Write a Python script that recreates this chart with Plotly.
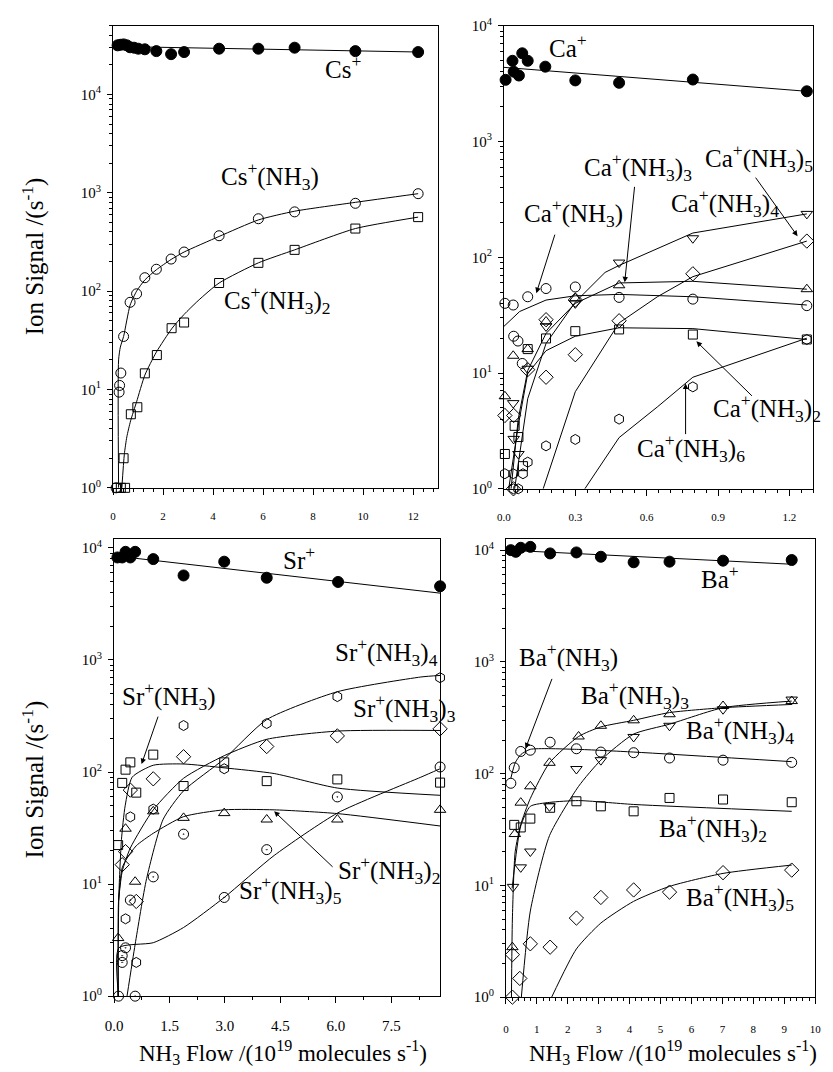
import plotly.graph_objects as go

W, H = 833, 1072
SERIF = "Liberation Serif, Times New Roman, serif"

# ---------------- Cs panel ----------------
cs_x = [0.18, 0.29, 0.42, 0.55, 0.68, 0.84, 1.01, 1.27, 1.73, 2.32, 2.84, 4.24, 5.81, 7.26, 9.69, 12.2]
cs_y = [31600, 32000, 32300, 31600, 30200, 29900, 29200, 28800, 27600, 25700, 27000, 29200, 29200, 29900, 27600, 27000]
cs_fit_x = [0.0, 12.3]
cs_fit_y = [30800, 27000]

cs1_x = [0.12, 0.24, 0.26, 0.31, 0.42, 0.68, 0.94, 1.27, 1.73, 2.32, 2.84, 4.24, 5.81, 7.26, 9.69, 12.2]
cs1_y = [1, 9.4, 11, 14.7, 34.6, 77, 94, 137, 167, 212, 250, 366, 545, 640, 782, 980]
cs1_fit_x = [0.22, 0.22, 0.29, 0.42, 0.68, 0.94, 1.27, 1.73, 2.32, 2.84, 4.24, 5.81, 7.26, 9.69, 12.2]
cs1_fit_y = [1, 20, 27, 34.6, 72, 100, 130, 165, 210, 250, 360, 530, 650, 800, 980]

cs2_x = [0.16, 0.31, 0.48, 0.42, 0.71, 0.97, 1.27, 1.75, 2.34, 2.84, 4.24, 5.81, 7.26, 9.69, 12.2]
cs2_y = [1, 1, 1, 2.0, 5.6, 6.6, 14.6, 22.4, 42, 48, 121, 194, 263, 433, 566]
cs2_fit_x = [0.35, 0.45, 0.55, 0.7, 0.94, 1.27, 1.73, 2.36, 2.84, 3.4, 4.24, 5.81, 7.26, 9.69, 12.2]
cs2_fit_y = [1, 2.2, 3.3, 4.8, 7.5, 14, 24, 42, 58, 80, 121, 194, 263, 433, 566]

# ---------------- Ca panel ----------------
ca_x = [0.007, 0.036, 0.041, 0.063, 0.077, 0.10, 0.174, 0.30, 0.484, 0.794, 1.273]
ca_y = [3410, 4980, 4010, 3715, 5780, 4980, 4430, 3370, 3215, 3430, 2715]
ca_fit_x = [0.0, 1.273]
ca_fit_y = [4370, 2715]

ca1_x = [0.004, 0.039, 0.041, 0.059, 0.077, 0.10, 0.177, 0.30, 0.484, 0.794, 1.273]
ca1_y = [40, 38.7, 20.8, 18.9, 12.1, 45.6, 53.7, 55.4, 45, 43.5, 38.2]
ca1_fit_x = [0.0, 0.066, 0.177, 0.30, 0.484, 0.794, 1.273]
ca1_fit_y = [25.3, 34, 42.7, 46.5, 47.8, 45.6, 38.7]

ca2_x = [0.004, 0.045, 0.061, 0.08, 0.10, 0.177, 0.30, 0.484, 0.794, 1.273]
ca2_y = [2.0, 3.5, 2.8, 1.57, 16.1, 19.9, 23, 23.8, 21.5, 19.5]
ca2_fit_x = [0.02, 0.06, 0.1, 0.177, 0.30, 0.484, 0.794, 1.273]
ca2_fit_y = [1, 3.5, 9.9, 15.6, 20.8, 24.6, 24.2, 19.5]

ca3_x = [0.004, 0.039, 0.10, 0.177, 0.30, 0.484, 1.273]
ca3_y = [6.3, 14.1, 16.1, 27.9, 44.2, 57.3, 53]
ca3_fit_x = [0.03, 0.06, 0.1, 0.177, 0.30, 0.484, 0.794, 1.273]
ca3_fit_y = [1, 4, 10.5, 22, 40, 60, 62, 53]

ca4_x = [0.039, 0.041, 0.061, 0.10, 0.177, 0.30, 0.484, 0.794, 1.273]
ca4_y = [5.5, 2.7, 2.0, 10.9, 25.3, 40, 90, 146, 237]
ca4_fit_x = [0.045, 0.1, 0.177, 0.30, 0.425, 0.484, 0.794, 1.273]
ca4_fit_y = [1, 6, 18, 41, 74, 85, 162, 237]

ca5_x = [0.004, 0.041, 0.04, 0.10, 0.177, 0.177, 0.30, 0.30, 0.484, 0.794, 1.273]
ca5_y = [4.3, 4.3, 1.0, 10.7, 9.2, 28.9, 14.4, 42.7, 28.3, 72, 138]
ca5_fit_x = [0.165, 0.30, 0.484, 0.645, 0.794, 1.273]
ca5_fit_y = [1, 6.9, 27.1, 45.6, 68, 138]

ca6_x = [0.004, 0.039, 0.04, 0.06, 0.08, 0.10, 0.177, 0.30, 0.484, 0.794, 1.273]
ca6_y = [1.35, 1.35, 1.0, 1.0, 1.35, 1.7, 2.35, 2.67, 4.0, 7.6, 19.5]
ca6_fit_x = [0.34, 0.484, 0.645, 0.794, 1.273]
ca6_fit_y = [1, 2.77, 5.1, 9.2, 20]

# ---------------- Sr panel ----------------
sr_x = [0.13, 0.09, 0.22, 0.31, 0.44, 0.57, 1.06, 1.88, 2.98, 4.13, 6.06, 8.82]
sr_y = [12100, 8220, 8220, 9230, 8220, 9230, 7950, 5680, 7540, 5420, 4970, 4550]
sr_fit_x = [0.0, 8.82]
sr_fit_y = [8500, 3950]

sr1_x = [0.11, 0.22, 0.31, 0.44, 0.6, 1.06, 1.88, 2.98, 4.13, 6.04, 8.82]
sr1_y = [22.3, 80, 105, 122, 65.5, 143, 75, 122, 83, 86, 80.5]
sr1_fit_x = [0.1, 0.13, 0.2, 0.3, 0.49, 1.06, 1.88, 2.98, 4.33, 6.04, 8.82]
sr1_fit_y = [1, 8, 25, 50, 90, 115, 118, 109, 97, 72, 62]

sr2_x = [0.11, 0.31, 0.57, 1.06, 1.88, 2.98, 4.13, 6.04, 8.82]
sr2_y = [3.3, 31.2, 10.5, 44.6, 39, 43, 37.7, 37.7, 46]
sr2_fit_x = [0.12, 0.12, 0.22, 0.35, 0.6, 1.06, 1.88, 2.98, 4.33, 6.04, 8.82]
sr2_fit_y = [1, 7, 14, 17, 22, 28.4, 40, 46, 46, 42.6, 33]

sr3_x = [0.22, 0.31, 0.44, 0.6, 1.06, 1.88, 4.13, 6.04, 8.82]
sr3_y = [14.9, 19.5, 69, 7.0, 87, 137, 169, 210, 243]
sr3_fit_x = [0.12, 0.22, 0.44, 1.06, 1.88, 2.98, 4.13, 6.04, 8.82]
sr3_fit_y = [7, 13, 21, 46, 88, 140, 196, 232, 235]

sr4_x = [0.31, 0.44, 0.6, 1.06, 1.88, 2.98, 4.13, 6.04, 8.82]
sr4_y = [4.9, 39.8, 2.0, 46.7, 260, 107, 271, 471, 695]
sr4_fit_x = [0.35, 0.57, 0.88, 1.33, 1.88, 2.98, 4.13, 6.04, 8.3, 8.82]
sr4_fit_y = [1, 2.9, 11.2, 38, 68, 131, 294, 521, 705, 728]

sr5_x = [0.12, 0.22, 0.22, 0.31, 0.44, 0.57, 1.06, 1.88, 2.98, 4.13, 6.04, 8.82]
sr5_y = [1, 2.0, 2.3, 2.7, 7.2, 1.0, 11.6, 27.9, 7.6, 20.3, 60, 111]
sr5_fit_x = [0.12, 0.13, 1.06, 1.88, 2.98, 4.33, 6.04, 8.3, 8.82]
sr5_fit_y = [1, 2.7, 3.0, 4.1, 7.6, 18, 43, 90, 107]

# ---------------- Ba panel ----------------
ba_x = [0.16, 0.32, 0.48, 0.79, 1.43, 2.28, 3.07, 4.13, 5.29, 7.02, 9.24]
ba_y = [10000, 9660, 10500, 10700, 9350, 9540, 8730, 7790, 7890, 8050, 8160]
ba_fit_x = [0.05, 9.24]
ba_fit_y = [10000, 7480]

ba1_x = [0.16, 0.27, 0.48, 0.79, 1.43, 2.28, 3.07, 4.13, 5.29, 7.02, 9.24]
ba1_y = [82, 113, 158, 162, 191, 167, 156, 154, 138, 132, 126]
ba1_fit_x = [0.16, 0.3, 0.48, 0.79, 2.28, 4.13, 9.24]
ba1_fit_y = [91, 125, 148, 165, 165, 156, 128]

ba2_x = [0.27, 0.48, 0.79, 1.43, 2.28, 3.07, 4.13, 5.29, 7.02, 9.24]
ba2_y = [34.8, 33, 39.6, 49.5, 56.6, 51, 46, 60.6, 58.7, 55.5]
ba2_fit_x = [0.2, 0.48, 0.79, 1.41, 2.35, 4.13, 9.24]
ba2_fit_y = [9.4, 34, 51, 55.3, 57.4, 53, 46]

ba3_x = [0.21, 0.29, 0.48, 0.79, 1.41, 2.35, 3.07, 4.13, 5.29, 7.02, 9.24]
ba3_y = [2.8, 28.8, 55, 77, 125, 215, 268, 300, 340, 403, 446]
ba3_fit_x = [0.18, 0.21, 0.3, 0.48, 0.79, 1.41, 2.35, 3.07, 4.13, 5.29, 7.02, 9.24]
ba3_fit_y = [1, 5, 20, 35, 60, 125, 215, 262, 300, 352, 389, 416]

ba4_x = [0.23, 0.48, 0.79, 1.41, 2.28, 3.07, 4.13, 5.29, 7.02, 9.24]
ba4_y = [9.7, 14.5, 20.1, 51, 110, 132, 213, 268, 377, 460]
ba4_fit_x = [0.5, 0.79, 1.41, 2.35, 3.07, 4.13, 5.29, 7.02, 9.24]
ba4_fit_y = [1, 5.9, 27.9, 77, 132, 226, 277, 389, 446]

ba5_x = [0.21, 0.21, 0.45, 0.79, 1.43, 2.28, 3.07, 4.13, 5.29, 7.02, 9.24]
ba5_y = [1.0, 2.4, 1.47, 3.0, 2.8, 5.1, 7.8, 9.1, 8.7, 13, 13.7]
ba5_fit_x = [1.48, 2.28, 3.07, 4.13, 5.29, 7.02, 9.24]
ba5_fit_y = [1, 2.7, 4.6, 7.2, 9.8, 12.8, 15.2]

# ---------------- tick labels ----------------
log_tickvals = [1, 10, 100, 1000, 10000]
log_ticktext = ["10<sup>0</sup>", "10<sup>1</sup>", "10<sup>2</sup>", "10<sup>3</sup>", "10<sup>4</sup>"]
minor_log = [m * 10 ** k for k in range(5) for m in range(2, 10)]

fig = go.Figure()


def pts(x, y, ax, symbol, size=10):
    fig.add_trace(go.Scatter(
        x=x, y=y, xaxis=ax[0], yaxis=ax[1], mode="markers", cliponaxis=False,
        marker=dict(symbol=symbol, size=size, color="black",
                    line=dict(width=1, color="black")),
        showlegend=False, hoverinfo="skip"))


def fit(x, y, ax, shape="linear"):
    fig.add_trace(go.Scatter(
        x=x, y=y, xaxis=ax[0], yaxis=ax[1], mode="lines",
        line=dict(color="black", width=1, shape=shape, smoothing=0.6),
        showlegend=False, hoverinfo="skip"))


A1, A2, A3, A4 = ("x", "y"), ("x2", "y2"), ("x3", "y3"), ("x4", "y4")

# Cs
fit(cs_fit_x, cs_fit_y, A1)
fit(cs1_fit_x, cs1_fit_y, A1, "spline")
fit(cs2_fit_x, cs2_fit_y, A1, "spline")
pts(cs_x, cs_y, A1, "circle", 11)
pts(cs1_x, cs1_y, A1, "circle-open", 10)
pts(cs2_x, cs2_y, A1, "square-open", 9)

# Ca
for fx, fy in [(ca_fit_x, ca_fit_y), (ca1_fit_x, ca1_fit_y), (ca2_fit_x, ca2_fit_y),
               (ca3_fit_x, ca3_fit_y), (ca4_fit_x, ca4_fit_y), (ca5_fit_x, ca5_fit_y),
               (ca6_fit_x, ca6_fit_y)]:
    fit(fx, fy, A2)
pts(ca_x, ca_y, A2, "circle", 11)
pts(ca1_x, ca1_y, A2, "circle-open", 10)
pts(ca2_x, ca2_y, A2, "square-open", 9)
pts(ca3_x, ca3_y, A2, "triangle-up-open", 10)
pts(ca4_x, ca4_y, A2, "triangle-down-open", 10)
pts(ca5_x, ca5_y, A2, "diamond-open", 11)
pts(ca6_x, ca6_y, A2, "hexagon-open", 10)

# Sr
fit(sr_fit_x, sr_fit_y, A3)
for fx, fy in [(sr1_fit_x, sr1_fit_y), (sr2_fit_x, sr2_fit_y), (sr3_fit_x, sr3_fit_y),
               (sr4_fit_x, sr4_fit_y), (sr5_fit_x, sr5_fit_y)]:
    fit(fx, fy, A3, "spline")
pts(sr_x, sr_y, A3, "circle", 11)
pts(sr1_x, sr1_y, A3, "square-open", 9)
pts(sr2_x, sr2_y, A3, "triangle-up-open", 10)
pts(sr3_x, sr3_y, A3, "diamond-open", 11)
pts(sr4_x, sr4_y, A3, "hexagon-open", 10)
pts(sr5_x, sr5_y, A3, "circle-open-dot", 10)

# Ba
fit(ba_fit_x, ba_fit_y, A4)
for fx, fy in [(ba1_fit_x, ba1_fit_y), (ba2_fit_x, ba2_fit_y), (ba3_fit_x, ba3_fit_y),
               (ba4_fit_x, ba4_fit_y), (ba5_fit_x, ba5_fit_y)]:
    fit(fx, fy, A4, "spline")
pts(ba_x, ba_y, A4, "circle", 11)
pts(ba1_x, ba1_y, A4, "circle-open", 10)
pts(ba2_x, ba2_y, A4, "square-open", 9)
pts(ba3_x, ba3_y, A4, "triangle-up-open", 10)
pts(ba4_x, ba4_y, A4, "triangle-down-open", 10)
pts(ba5_x, ba5_y, A4, "diamond-open", 11)


def dom_x(l, r):
    return [l / W, r / W]


def dom_y(t, b):
    return [1 - b / H, 1 - t / H]


def xaxis(l, r, rng, tickvals, ticktext, minor_dtick, fsize, standoff):
    return dict(domain=dom_x(l, r), range=rng, tickvals=tickvals, ticktext=ticktext,
                showline=True, linecolor="black", linewidth=1, mirror=True,
                ticks="outside", ticklen=6, tickwidth=1, tickcolor="black",
                ticklabelstandoff=standoff,
                minor=dict(dtick=minor_dtick, tick0=0, ticks="outside", ticklen=3,
                           tickcolor="black", showgrid=False),
                showgrid=False, zeroline=False,
                tickfont=dict(family=SERIF, size=fsize, color="black"))


def yaxis(t, b, top, anchor):
    return dict(domain=dom_y(t, b), type="log", range=[0, top], anchor=anchor,
                tickvals=log_tickvals, ticktext=log_ticktext,
                showline=True, linecolor="black", linewidth=1, mirror=True,
                ticks="outside", ticklen=5, tickwidth=1, tickcolor="black",
                ticklabelstandoff=3,
                minor=dict(tickvals=minor_log, ticks="outside", ticklen=3,
                           tickcolor="black", showgrid=False),
                showgrid=False, zeroline=False,
                tickfont=dict(family=SERIF, size=15, color="black"))


fig.update_layout(
    width=W, height=H, margin=dict(l=0, r=0, t=0, b=0),
    paper_bgcolor="white", plot_bgcolor="white", showlegend=False,
    xaxis=dict(xaxis(106, 437, [0, 13], [0, 2, 4, 6, 8, 10, 12],
                     ["0", "2", "4", "6", "8", "10", "12"], 0.4, 11, 12), anchor="y"),
    yaxis=yaxis(16, 486, 4.699, "x"),
    xaxis2=dict(xaxis(504, 819, [0, 1.3], [0, 0.3, 0.6, 0.9, 1.2],
                      ["0.0", "0.3", "0.6", "0.9", "1.2"], 0.05, 11, 12), anchor="y2"),
    yaxis2=yaxis(16, 487, 4.0, "x2"),
    xaxis3=dict(xaxis(107, 439, [0, 8.82], [0, 1.5, 3, 4.5, 6, 7.5],
                      ["0.0", "1.5", "3.0", "4.5", "6.0", "7.5"], 0.75, 15, 10), anchor="y3"),
    yaxis3=yaxis(538, 1003, 4.08, "x3"),
    xaxis4=dict(xaxis(506, 821, [0, 10], list(range(11)),
                      [str(v) for v in range(11)], 0.2, 11, 16), anchor="y4"),
    yaxis4=yaxis(538, 1004, 4.1, "x4"),
)

# ---------------- annotations ----------------
ann = []
DY = -5


def label(text, left, yc, size=25):
    ann.append(dict(text=text, xref="paper", yref="paper", x=left / W, y=1 - (yc + DY) / H,
                    xanchor="left", yanchor="middle", showarrow=False,
                    font=dict(family=SERIF, size=size, color="black")))


def arrow(tail, head):
    ann.append(dict(text="", xref="paper", yref="paper", x=head[0] / W, y=1 - head[1] / H,
                    ax=tail[0] - head[0], ay=tail[1] - head[1], showarrow=True,
                    arrowhead=2, arrowsize=1.1, arrowwidth=1, arrowcolor="black"))


NH = "(NH<sub>3</sub>)"
label("Cs<sup>+</sup>", 320, 63)
label("Cs<sup>+</sup>" + NH, 214, 174)
label("Cs<sup>+</sup>" + NH + "<sub>2</sub>", 217, 300)

label("Ca<sup>+</sup>", 548, 42)
label("Ca<sup>+</sup>" + NH, 522, 211)
label("Ca<sup>+</sup>" + NH + "<sub>3</sub>", 583, 165)
label("Ca<sup>+</sup>" + NH + "<sub>5</sub>", 707, 156)
label("Ca<sup>+</sup>" + NH + "<sub>4</sub>", 672, 201)
label("Ca<sup>+</sup>" + NH + "<sub>2</sub>", 715, 410)
label("Ca<sup>+</sup>" + NH + "<sub>6</sub>", 637, 450)
arrow((556, 228), (537, 288))
arrow((637, 180), (627, 277))
arrow((760, 170), (803, 230))
arrow((757, 393), (700, 337))
arrow((689, 432), (689, 380))

label("Sr<sup>+</sup>", 277, 562)
label("Sr<sup>+</sup>" + NH + "<sub>4</sub>", 330, 658)
label("Sr<sup>+</sup>" + NH + "<sub>3</sub>", 348, 715)
label("Sr<sup>+</sup>" + NH, 113, 703)
label("Sr<sup>+</sup>" + NH + "<sub>2</sub>", 333, 880)
label("Sr<sup>+</sup>" + NH + "<sub>5</sub>", 232, 900)
arrow((152, 718), (135, 767))
arrow((330, 872), (270, 815))

label("Ba<sup>+</sup>", 703, 582)
label("Ba<sup>+</sup>" + NH, 517, 663)
label("Ba<sup>+</sup>" + NH + "<sub>3</sub>", 580, 702)
label("Ba<sup>+</sup>" + NH + "<sub>4</sub>", 687, 737)
label("Ba<sup>+</sup>" + NH + "<sub>2</sub>", 660, 837)
label("Ba<sup>+</sup>" + NH + "<sub>5</sub>", 687, 907)
arrow((553, 680), (526, 751))

# axis titles
for yc in (251, 783):
    ann.append(dict(text="Ion Signal /(s<sup>-1</sup>)", xref="paper", yref="paper",
                    x=25 / W, y=1 - yc / H, textangle=-90, showarrow=False,
                    xanchor="center", yanchor="middle",
                    font=dict(family=SERIF, size=25, color="black")))
for xc in (279, 676):
    ann.append(dict(text="NH<sub>3</sub> Flow /(10<sup>19</sup> molecules s<sup>-1</sup>)",
                    xref="paper", yref="paper", x=xc / W, y=1 - 1060 / H,
                    showarrow=False, xanchor="center", yanchor="middle",
                    font=dict(family=SERIF, size=23, color="black")))

fig.update_layout(annotations=ann)

fig.write_html("out.html", config={"displayModeBar": False},
               post_script="document.body.style.margin='0';document.body.style.overflow='hidden';")
